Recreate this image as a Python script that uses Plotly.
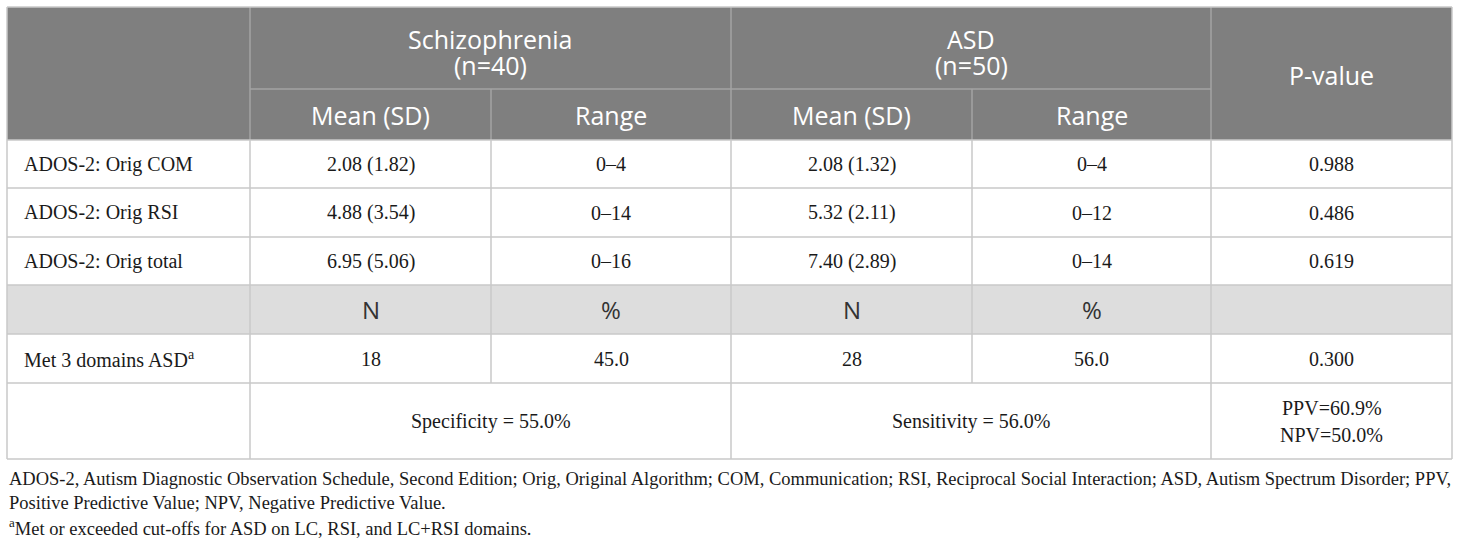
import plotly.graph_objects as go

# table content
group_names = ["Schizophrenia", "ASD"]
group_n = [40, 50]
sub_headers = ["Mean (SD)", "Range"]
count_headers = ["N", "%"]
measures = ["ADOS-2: Orig COM", "ADOS-2: Orig RSI", "ADOS-2: Orig total"]
scz_mean_sd = ["2.08 (1.82)", "4.88 (3.54)", "6.95 (5.06)"]
scz_range = ["0–4", "0–14", "0–16"]
asd_mean_sd = ["2.08 (1.32)", "5.32 (2.11)", "7.40 (2.89)"]
asd_range = ["0–4", "0–12", "0–14"]
p_values = ["0.988", "0.486", "0.619"]

met_label = "Met 3 domains ASD<sup>a</sup>"
met_counts = [18, 28]
met_pct = [45.0, 56.0]
met_p = "0.300"

specificity = 55.0
sensitivity = 56.0
ppv = 60.9
npv = 50.0

footnotes = [
    "ADOS-2, Autism Diagnostic Observation Schedule, Second Edition; Orig, Original Algorithm; COM, Communication; RSI, Reciprocal Social Interaction; ASD, Autism Spectrum Disorder; PPV,",
    "Positive Predictive Value; NPV, Negative Predictive Value.",
    "<sup>a</sup>Met or exceeded cut-offs for ASD on LC, RSI, and LC+RSI domains.",
]

# geometry (pixels)
W, H = 1460, 543
cols = [7, 250, 491, 731, 972, 1211, 1452]
rows = [7, 89, 140, 188, 237, 285, 334, 383, 459]

HEAD_BG = "#7f7f7f"
GRAY_BG = "#dddddd"
LINE = "#c8c8c8"
HEAD_LINE = "#a3a3a3"
SANS = "Open Sans, sans-serif"
SERIF = "Liberation Serif, Times New Roman, serif"

fig = go.Figure()
shapes = []
annotations = []


def rect(x0, x1, y0, y1, color):
    shapes.append(dict(type="rect", xref="x", yref="y", x0=x0, x1=x1, y0=y0, y1=y1,
                       fillcolor=color, line=dict(width=0), layer="below"))


def hline(x0, x1, y, color=LINE):
    shapes.append(dict(type="line", xref="x", yref="y", x0=x0, x1=x1, y0=y, y1=y,
                       line=dict(color=color, width=1.5)))


def vline(x, y0, y1, color=LINE):
    shapes.append(dict(type="line", xref="x", yref="y", x0=x, x1=x, y0=y0, y1=y1,
                       line=dict(color=color, width=1.5)))


def text(x, y, s, font=SERIF, size=20, color="#1a1a1a", anchor="center"):
    annotations.append(dict(x=x, y=y, xref="x", yref="y", text=s, showarrow=False,
                            xanchor=anchor, yanchor="middle", align=anchor,
                            font=dict(family=font, size=size, color=color)))


def cx(i, j=None):
    j = i + 1 if j is None else j
    return (cols[i] + cols[j]) / 2


def cy(i, j=None):
    j = i + 1 if j is None else j
    return (rows[i] + rows[j]) / 2


# backgrounds
rect(cols[0], cols[-1], rows[0], rows[2], HEAD_BG)
rect(cols[0], cols[-1], rows[5], rows[6], GRAY_BG)

# header grid
hline(cols[1], cols[5], rows[1], HEAD_LINE)
for c in [1, 3, 5]:
    vline(cols[c], rows[0], rows[2], HEAD_LINE)
for c in [2, 4]:
    vline(cols[c], rows[1], rows[2], HEAD_LINE)

# body grid
for r in range(2, len(rows)):
    hline(cols[0], cols[-1], rows[r])
hline(cols[0], cols[-1], rows[0])
vline(cols[0], rows[0], rows[-1])
vline(cols[-1], rows[0], rows[-1])
for c in range(1, 6):
    if c in (2, 4):
        vline(cols[c], rows[2], rows[7])
    else:
        vline(cols[c], rows[2], rows[-1])

# header text
HS = 25
for g, c in enumerate([1, 3]):
    text(cx(c, c + 2), cy(0) - 9, group_names[g], SANS, HS, "white")
    text(cx(c, c + 2), cy(0) + 17, f"(n={group_n[g]})", SANS, HS, "white")
text(cx(5), cy(0, 2) + 1, "P-value", SANS, HS, "white")
for k, c in enumerate([1, 2, 3, 4]):
    text(cx(c), cy(1), sub_headers[k % 2], SANS, HS, "white")

# body rows
for i, m in enumerate(measures):
    r = 2 + i
    text(cols[0] + 15, cy(r), m, anchor="left")
    text(cx(1), cy(r), scz_mean_sd[i])
    text(cx(2), cy(r), scz_range[i])
    text(cx(3), cy(r), asd_mean_sd[i])
    text(cx(4), cy(r), asd_range[i])
    text(cx(5), cy(r), p_values[i])

for k, c in enumerate([1, 2, 3, 4]):
    text(cx(c), cy(5), count_headers[k % 2], SANS, 24, "#333333")

text(cols[0] + 15, cy(6), met_label, anchor="left")
text(cx(1), cy(6), str(met_counts[0]))
text(cx(2), cy(6), f"{met_pct[0]:.1f}")
text(cx(3), cy(6), str(met_counts[1]))
text(cx(4), cy(6), f"{met_pct[1]:.1f}")
text(cx(5), cy(6), met_p)

text(cx(1, 3), cy(7), f"Specificity = {specificity:.1f}%")
text(cx(3, 5), cy(7), f"Sensitivity = {sensitivity:.1f}%")
text(cx(5), cy(7) - 13, f"PPV={ppv:.1f}%")
text(cx(5), cy(7) + 14, f"NPV={npv:.1f}%")

# footnotes
for i, line in enumerate(footnotes):
    text(cols[0], 479 + 24 * i, line, size=18.5, anchor="left")

fig.update_layout(
    width=W, height=H,
    margin=dict(l=0, r=0, t=0, b=0),
    paper_bgcolor="white", plot_bgcolor="white",
    xaxis=dict(range=[0, W], visible=False, fixedrange=True),
    yaxis=dict(range=[H, 0], visible=False, fixedrange=True),
    shapes=shapes,
    annotations=annotations,
    showlegend=False,
)

fig.write_html("out.html", config={"displayModeBar": False},
               post_script="document.body.style.margin = '0px';")
